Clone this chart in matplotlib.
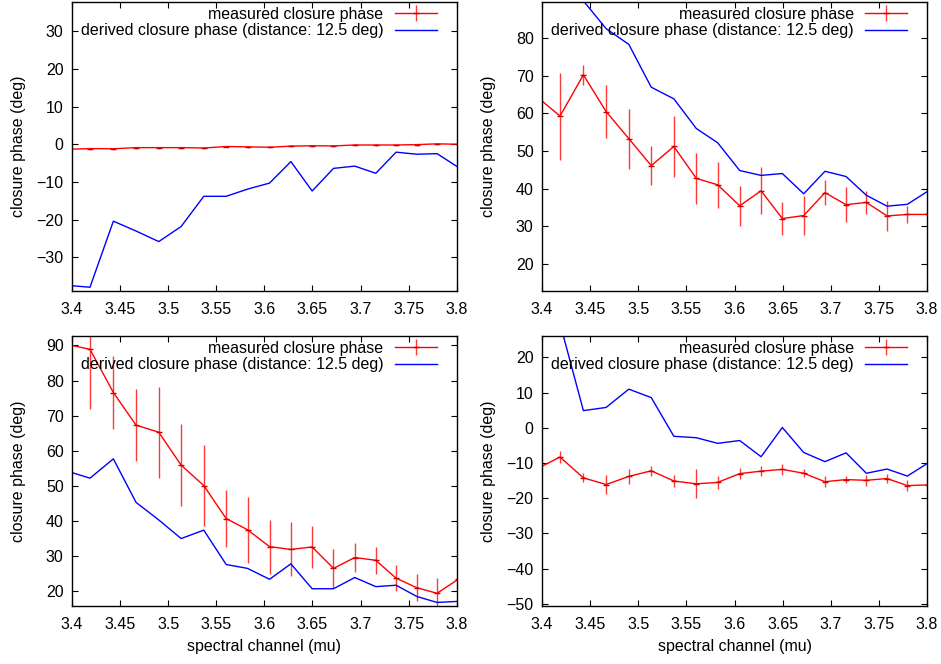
import matplotlib
matplotlib.use("Agg")
import matplotlib.pyplot as plt

plt.rcParams['font.family'] = ['Liberation Sans', 'DejaVu Sans']

# spectral channels (mu); first and last lie just outside the plotted range
wavelength = [3.395, 3.4187, 3.443, 3.4666, 3.4902, 3.5135, 3.537, 3.5603, 3.5825,
              3.6054, 3.6276, 3.6497, 3.6719, 3.694, 3.7159, 3.737, 3.7585, 3.7796, 3.8015]

# panel 1 (top left)
meas1 = [-1.34, -1.15, -1.2, -0.9, -0.9, -0.9, -1.0, -0.6, -0.7, -0.8, -0.5, -0.4,
         -0.45, -0.2, -0.2, -0.2, -0.1, 0.1, 0.0]
err1 = [0.25] * 19
deriv1 = [-37.4, -37.9, -20.4, -23.0, -25.8, -21.8, -13.8, -13.8, -11.9, -10.3, -4.6,
          -12.4, -6.4, -5.8, -7.7, -2.1, -2.65, -2.5, -6.1]

# panel 2 (top right)
meas2 = [64.4, 59.3, 70.3, 60.5, 53.3, 46.1, 51.2, 42.7, 41.0, 35.4, 39.4, 32.0, 32.8,
         38.9, 35.7, 36.3, 32.7, 33.1, 33.1]
err2 = [6.0, 11.6, 2.6, 7.0, 8.0, 5.2, 8.0, 6.7, 6.2, 5.3, 6.3, 4.4, 5.1, 3.4, 4.6,
        3.1, 4.1, 2.2, 2.2]
deriv2 = [104.0, 97.0, 90.0, 82.6, 78.4, 67.0, 63.9, 56.0, 52.2, 44.8, 43.5, 44.0, 38.6,
          44.6, 43.2, 38.2, 35.3, 35.8, 39.4]

# panel 3 (bottom left)
meas3 = [90.3, 88.9, 76.6, 67.3, 65.3, 55.9, 50.1, 40.7, 37.5, 32.7, 31.9, 32.6, 26.5,
         29.6, 28.8, 23.7, 21.0, 19.4, 23.4]
err3 = [15.0, 17.0, 10.4, 10.3, 13.0, 11.6, 11.6, 8.0, 9.4, 7.7, 7.7, 6.1, 5.6, 4.2,
        3.9, 3.7, 3.8, 4.4, 4.0]
deriv3 = [54.2, 52.2, 57.7, 45.3, 40.3, 35.0, 37.4, 27.6, 26.5, 23.4, 27.8, 20.7, 20.7,
          23.9, 21.3, 21.7, 18.5, 16.8, 17.1]

# panel 4 (bottom right)
meas4 = [-11.6, -8.3, -14.2, -16.1, -13.8, -12.2, -15.1, -15.9, -15.5, -13.0, -12.3,
         -11.8, -12.9, -15.3, -14.7, -14.9, -14.4, -16.4, -16.2]
err4 = [1.5, 1.6, 1.3, 2.6, 2.2, 1.4, 1.7, 4.1, 1.8, 1.5, 1.4, 1.5, 1.1, 1.5, 1.1,
        1.5, 1.2, 1.5, 1.5]
deriv4 = [40.0, 29.7, 4.9, 5.8, 11.0, 8.6, -2.4, -2.8, -4.4, -3.6, -8.2, 0.1, -7.0,
          -9.6, -7.1, -12.9, -11.7, -13.7, -9.9]

ylims = [(-38.9, 37.7), (12.7, 89.7), (15.7, 92.7), (-50.7, 26.1)]
yticks = [[-30, -20, -10, 0, 10, 20, 30],
          [20, 30, 40, 50, 60, 70, 80],
          [20, 30, 40, 50, 60, 70, 80, 90],
          [-50, -40, -30, -20, -10, 0, 10, 20]]
xticks = [3.4, 3.45, 3.5, 3.55, 3.6, 3.65, 3.7, 3.75, 3.8]
xticklabels = ['3.4', '3.45', '3.5', '3.55', '3.6', '3.65', '3.7', '3.75', '3.8']

meas = [meas1, meas2, meas3, meas4]
errs = [err1, err2, err3, err4]
derivs = [deriv1, deriv2, deriv3, deriv4]

W, H = 941, 664
fig = plt.figure(figsize=(W / 100, H / 100), dpi=100)

# axes boxes in pixels: left, top, right, bottom
boxes = [(72, 2, 456.7, 291), (542, 2, 927, 291),
         (72, 336, 456.7, 606.3), (542, 336, 927, 606.3)]

FS = 11.5
for i, (l, t, r, b) in enumerate(boxes):
    ax = fig.add_axes([l / W, (H - b) / H, (r - l) / W, (b - t) / H])
    h1 = ax.errorbar(wavelength, meas[i], yerr=errs[i], color='#ff0000', lw=1.0,
                     ecolor='#ff3838', elinewidth=1.0, capsize=0, marker='_',
                     markersize=4, mew=1.0, mec='#d00000')
    h2, = ax.plot(wavelength, derivs[i], color='#0000ff', lw=1.0)
    ax.set_xlim(3.4, 3.8)
    ax.set_ylim(*ylims[i])
    ax.set_xticks(xticks)
    ax.set_xticklabels(xticklabels)
    ax.set_yticks(yticks[i])
    ax.tick_params(direction='in', length=4, width=0.8, top=True, right=True,
                   labelsize=FS, pad=6, colors='black')
    ax.tick_params(axis='x', pad=8)
    for s in ax.spines.values():
        s.set_linewidth(1.0)
        s.set_color('black')
    ax.set_ylabel('closure phase (deg)', fontsize=FS)
    ax.yaxis.set_label_coords(-0.140, 0.5)
    if i >= 2:
        ax.set_xlabel('spectral channel (mu)', fontsize=FS)
        ax.xaxis.set_label_coords(0.5, -0.147)
        ax.xaxis.label.set_va('center')
    ax.yaxis.label.set_va('center')
    ph = b - t
    ax.legend([h1, h2], ['measured closure phase',
                         'derived closure phase (distance: 12.5 deg)'],
              loc='upper right', bbox_to_anchor=(0.949, 1 - 4.5 / ph),
              frameon=False, markerfirst=False, fontsize=FS,
              handlelength=2.65, handletextpad=0.7, labelspacing=0.12,
              borderpad=0, borderaxespad=0)

fig.savefig('out.png', dpi=100)
